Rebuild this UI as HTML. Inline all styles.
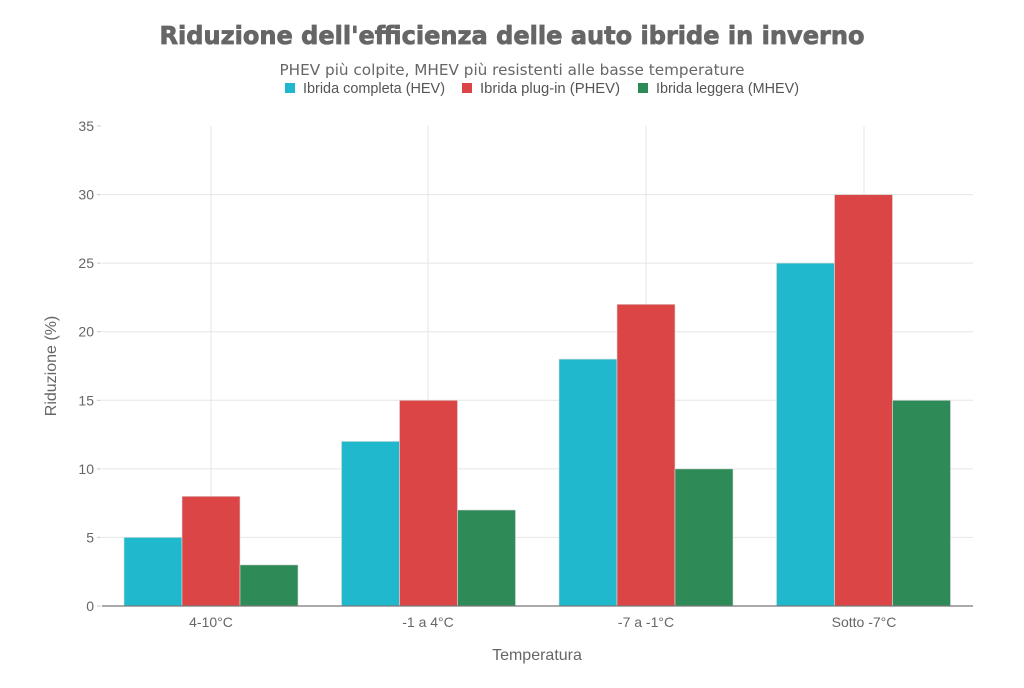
<!DOCTYPE html>
<html><head><meta charset="utf-8"><style>
html,body{margin:0;padding:0;background:#fff;}
svg text{font-family:"Liberation Sans",sans-serif;}
</style></head><body>
<svg width="1024" height="683" viewBox="0 0 1024 683" xmlns="http://www.w3.org/2000/svg">
<rect width="1024" height="683" fill="#fff"/>
<text x="512" y="44" text-anchor="middle" textLength="705" lengthAdjust="spacingAndGlyphs" style="font-family:'DejaVu Sans',sans-serif;font-weight:bold;font-size:25px" fill="#666" stroke="#666" stroke-width="0.8">Riduzione dell'efficienza delle auto ibride in inverno</text>
<text x="512" y="75" text-anchor="middle" textLength="465" lengthAdjust="spacingAndGlyphs" style="font-family:'DejaVu Sans',sans-serif;font-size:15px" fill="#666">PHEV più colpite, MHEV più resistenti alle basse temperature</text>
<g font-size="14.5" fill="#555">
<rect x="285" y="83" width="10" height="10" fill="#1fb8cd"/><text x="303" y="93" textLength="142" lengthAdjust="spacingAndGlyphs">Ibrida completa (HEV)</text>
<rect x="462" y="83" width="10" height="10" fill="#db4545"/><text x="480" y="93" textLength="140" lengthAdjust="spacingAndGlyphs">Ibrida plug-in (PHEV)</text>
<rect x="638" y="83" width="10" height="10" fill="#2e8b57"/><text x="656" y="93" textLength="143" lengthAdjust="spacingAndGlyphs">Ibrida leggera (MHEV)</text>
</g>
<g stroke="#e5e5e5" stroke-width="1">
<line x1="102" x2="973" y1="537.4" y2="537.4"/><line x1="102" x2="973" y1="468.9" y2="468.9"/>
<line x1="102" x2="973" y1="400.3" y2="400.3"/><line x1="102" x2="973" y1="331.7" y2="331.7"/>
<line x1="102" x2="973" y1="263.1" y2="263.1"/><line x1="102" x2="973" y1="194.6" y2="194.6"/>
<line x1="211" x2="211" y1="126" y2="606"/><line x1="428" x2="428" y1="126" y2="606"/>
<line x1="646" x2="646" y1="126" y2="606"/><line x1="864" x2="864" y1="126" y2="606"/>
</g>
<g stroke="#ccc" stroke-width="1">
<line x1="97" x2="101" y1="126" y2="126"/><line x1="97" x2="101" y1="194.6" y2="194.6"/><line x1="97" x2="101" y1="263.1" y2="263.1"/><line x1="97" x2="101" y1="331.7" y2="331.7"/><line x1="97" x2="101" y1="400.3" y2="400.3"/><line x1="97" x2="101" y1="468.9" y2="468.9"/><line x1="97" x2="101" y1="537.4" y2="537.4"/><line x1="97" x2="101" y1="606" y2="606"/>
</g>
<g stroke="#ddd" stroke-width="0.6">
<rect x="124" y="537.4" width="58" height="68.6" fill="#1fb8cd"/>
<rect x="182" y="496.3" width="58" height="109.7" fill="#db4545"/>
<rect x="240" y="564.9" width="58" height="41.1" fill="#2e8b57"/>
<rect x="341.5" y="441.4" width="58" height="164.6" fill="#1fb8cd"/>
<rect x="399.5" y="400.3" width="58" height="205.7" fill="#db4545"/>
<rect x="457.5" y="510" width="58" height="96" fill="#2e8b57"/>
<rect x="559" y="359.1" width="58" height="246.9" fill="#1fb8cd"/>
<rect x="617" y="304.3" width="58" height="301.7" fill="#db4545"/>
<rect x="675" y="468.9" width="58" height="137.1" fill="#2e8b57"/>
<rect x="776.5" y="263.1" width="58" height="342.9" fill="#1fb8cd"/>
<rect x="834.5" y="194.6" width="58" height="411.4" fill="#db4545"/>
<rect x="892.5" y="400.3" width="58" height="205.7" fill="#2e8b57"/>
</g>
<line x1="102" x2="973" y1="606" y2="606" stroke="#777" stroke-width="1.2"/>
<g font-size="14" fill="#666" text-anchor="end">
<text x="94" y="131">35</text><text x="94" y="199.6">30</text><text x="94" y="268.1">25</text><text x="94" y="336.7">20</text><text x="94" y="405.3">15</text><text x="94" y="473.9">10</text><text x="94" y="542.4">5</text><text x="94" y="611">0</text>
</g>
<g font-size="14" fill="#666" text-anchor="middle">
<text x="211" y="627">4-10°C</text><text x="428" y="627">-1 a 4°C</text><text x="646" y="627">-7 a -1°C</text><text x="864" y="627">Sotto -7°C</text>
</g>
<text x="537" y="660" text-anchor="middle" font-size="16" fill="#666">Temperatura</text>
<text transform="translate(56,366) rotate(-90)" text-anchor="middle" font-size="16" fill="#666">Riduzione (%)</text>
</svg>
</body></html>
